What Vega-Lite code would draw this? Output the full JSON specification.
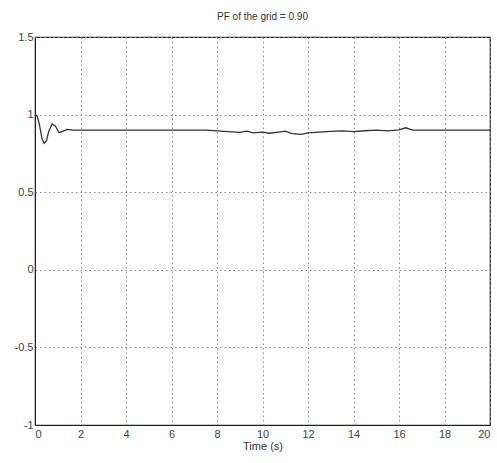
{
  "$schema": "https://vega.github.io/schema/vega-lite/v6.json",
  "autosize": {"type": "none"},
  "padding": {"left": 35, "top": 37, "right": 7, "bottom": 38},
  "width": 455,
  "height": 388,
  "background": "white",
  "title": {"text": "PF of the grid = 0.90", "fontSize": 10, "font": "Liberation Sans", "fontWeight": "normal", "color": "#333", "offset": 9},
  "config": {
    "view": {"stroke": "#222", "strokeWidth": 1.2},
    "axis": {"labelFont": "Liberation Sans", "labelFontSize": 11, "labelColor": "#444", "titleFont": "Liberation Sans", "titleFontWeight": "normal", "titleFontSize": 11, "titleColor": "#333", "grid": true, "gridDash": [1.5, 3], "gridColor": "#888", "gridWidth": 1, "domainColor": "#222", "tickColor": "#222", "ticks": false}
  },
  "data": {"values": [
    {"t": 0, "pf": 1.0}, {"t": 0.1, "pf": 0.99}, {"t": 0.2, "pf": 0.93}, {"t": 0.3, "pf": 0.85},
    {"t": 0.4, "pf": 0.815}, {"t": 0.5, "pf": 0.83}, {"t": 0.6, "pf": 0.89}, {"t": 0.75, "pf": 0.94},
    {"t": 0.9, "pf": 0.925}, {"t": 1.05, "pf": 0.885}, {"t": 1.2, "pf": 0.89}, {"t": 1.4, "pf": 0.905},
    {"t": 1.7, "pf": 0.9}, {"t": 2, "pf": 0.9}, {"t": 4, "pf": 0.9}, {"t": 6, "pf": 0.9},
    {"t": 7.5, "pf": 0.9}, {"t": 8, "pf": 0.895}, {"t": 8.5, "pf": 0.89}, {"t": 9, "pf": 0.885},
    {"t": 9.3, "pf": 0.893}, {"t": 9.6, "pf": 0.882}, {"t": 10, "pf": 0.887}, {"t": 10.3, "pf": 0.88},
    {"t": 10.7, "pf": 0.887}, {"t": 11, "pf": 0.893}, {"t": 11.3, "pf": 0.878}, {"t": 11.7, "pf": 0.872},
    {"t": 12, "pf": 0.882}, {"t": 12.5, "pf": 0.887}, {"t": 13, "pf": 0.892}, {"t": 13.5, "pf": 0.895},
    {"t": 14, "pf": 0.89}, {"t": 14.5, "pf": 0.896}, {"t": 15, "pf": 0.9}, {"t": 15.5, "pf": 0.895},
    {"t": 16, "pf": 0.902}, {"t": 16.3, "pf": 0.915}, {"t": 16.6, "pf": 0.9}, {"t": 17, "pf": 0.9},
    {"t": 18, "pf": 0.9}, {"t": 20, "pf": 0.9}
  ]},
  "mark": {"type": "line", "color": "#333", "strokeWidth": 1.3},
  "encoding": {
    "x": {"field": "t", "type": "quantitative", "title": "Time (s)", "scale": {"domain": [0, 20], "nice": false}, "axis": {"values": [0,2,4,6,8,10,12,14,16,18,20], "format": "~g", "labelPadding": 3, "titlePadding": 1}},
    "y": {"field": "pf", "type": "quantitative", "title": null, "scale": {"domain": [-1, 1.5], "nice": false, "zero": false}, "axis": {"values": [-1,-0.5,0,0.5,1,1.5], "labelExpr": "datum.value < 0 ? '-' + format(-datum.value, '~g') : format(datum.value, '~g')", "labelPadding": 2}}
  }
}
